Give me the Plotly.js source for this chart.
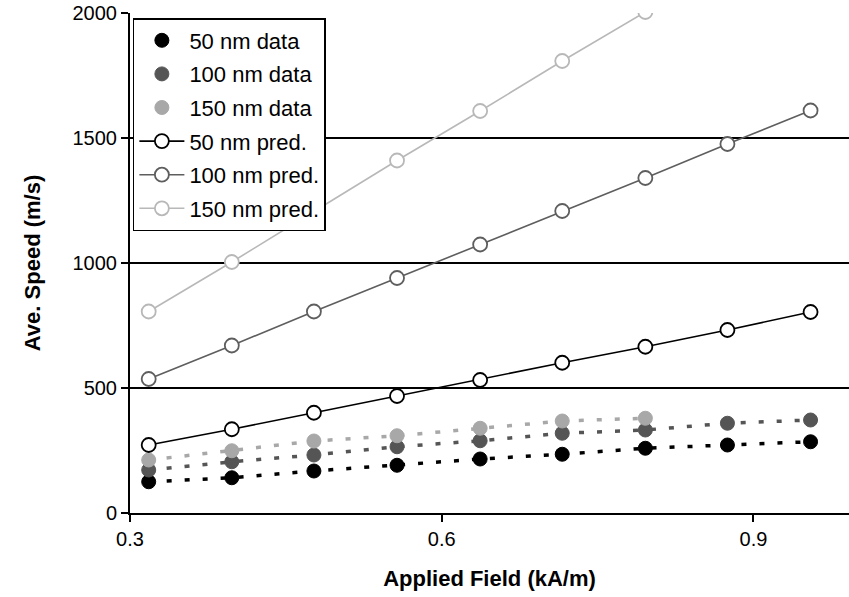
<!DOCTYPE html>
<html>
<head>
<meta charset="utf-8">
<script src="https://cdn.plot.ly/plotly-3.0.1.min.js"></script>
<style>html,body{margin:0;padding:0;background:#fff;}#chart{width:849px;height:597px;}</style>
</head>
<body>
<div id="chart"></div>
<script>
// Applied field (kA/m)
const field = [0.318, 0.398, 0.477, 0.557, 0.637, 0.716, 0.796, 0.875, 0.955];
const field150data = [0.318, 0.398, 0.477, 0.557, 0.637, 0.716, 0.796];

// Measured average speed (m/s)
const data50 = [125, 141, 168, 191, 216, 235, 259, 272, 285];
const data100 = [172, 205, 232, 265, 289, 319, 332, 359, 372];
const data150 = [212, 249, 288, 309, 339, 368, 379];

// Predicted average speed (m/s)
const pred50 = [272, 335, 401, 468, 532, 601, 665, 732, 804];
const pred100 = [536, 670, 806, 940, 1074, 1208, 1340, 1476, 1610];
const pred150 = [806, 1004, 1206, 1410, 1608, 1808, 2004, 2210, 2410];

const names = ["50 nm data", "100 nm data", "150 nm data", "50 nm pred.", "100 nm pred.", "150 nm pred."];
const yTicks = [0, 500, 1000, 1500, 2000];
const xTicks = [0.3, 0.6, 0.9];

function dataLine(x, y, color, g) {
  return {
    x: x, y: y, type: "scatter", mode: "lines", showlegend: false,
    legendgroup: g, hoverinfo: "skip",
    line: {color: color, width: 3.5, dash: "5px,13px"}
  };
}
function dataMarkers(x, y, name, color, g) {
  return {
    x: x, y: y, name: name, type: "scatter", mode: "markers",
    legendgroup: g,
    marker: {symbol: "circle", size: 14, color: color, line: {color: color, width: 1}}
  };
}
function predTrace(x, y, name, color, g) {
  return {
    x: x, y: y, name: name, type: "scatter", mode: "lines+markers",
    legendgroup: g,
    line: {color: color, width: 1.6},
    marker: {symbol: "circle", size: 14, color: "#ffffff", line: {color: color, width: 1.8}}
  };
}

const c50 = "#000000", c100 = "#555555", c150 = "#a8a8a8";
const p50 = "#000000", p100 = "#5e5e5e", p150 = "#b8b8b8";

const traces = [
  dataLine(field, data50, c50, "a"),
  dataLine(field, data100, c100, "b"),
  dataLine(field150data, data150, c150, "c"),
  dataMarkers(field, data50, names[0], c50, "a"),
  dataMarkers(field, data100, names[1], c100, "b"),
  dataMarkers(field150data, data150, names[2], c150, "c"),
  predTrace(field, pred50, names[3], p50, "d"),
  predTrace(field, pred100, names[4], p100, "e"),
  predTrace(field, pred150, names[5], p150, "f")
];

const layout = {
  width: 849, height: 597,
  margin: {l: 130, r: 0, t: 13, b: 84},
  paper_bgcolor: "#ffffff", plot_bgcolor: "#ffffff",
  font: {family: "Arial, 'Liberation Sans', sans-serif", color: "#000", size: 20},
  showlegend: true,
  legend: {
    x: 0.004, y: 0.99, xanchor: "left", yanchor: "top",
    bordercolor: "#000", borderwidth: 1.5, bgcolor: "#fff",
    font: {size: 22}, traceorder: "grouped", tracegroupgap: 2,
    itemwidth: 45
  },
  xaxis: {
    range: [0.3, 0.992], tickvals: xTicks, ticktext: xTicks.map(v => v.toFixed(1)),
    showgrid: false, zeroline: false, showline: true, linecolor: "#000", linewidth: 2,
    ticks: "outside", ticklen: 7, tickwidth: 2, tickcolor: "#000",
    tickfont: {size: 20},
    title: {text: "<b>Applied Field (kA/m)</b>", font: {size: 22}, standoff: 22}
  },
  yaxis: {
    range: [0, 2000], tickvals: yTicks,
    showgrid: true, gridcolor: "#000", gridwidth: 1.5, zeroline: false,
    showline: true, linecolor: "#000", linewidth: 2,
    ticks: "outside", ticklen: 7, tickwidth: 2, tickcolor: "#000",
    tickfont: {size: 20},
    title: {text: "<b>Ave. Speed (m/s)</b>", font: {size: 22}, standoff: 26}
  }
};

Plotly.newPlot("chart", traces, layout, {staticPlot: true, displayModeBar: false});
</script>
</body>
</html>
